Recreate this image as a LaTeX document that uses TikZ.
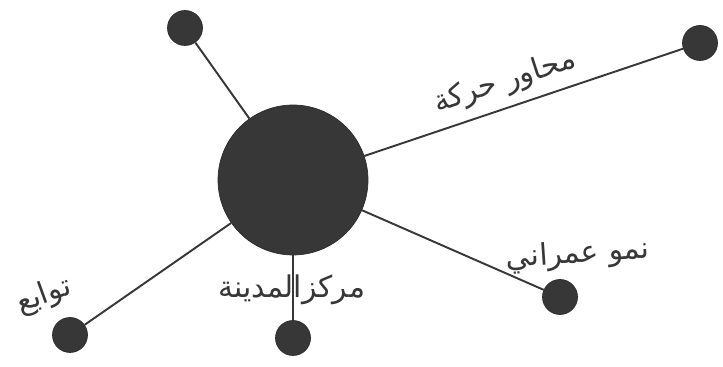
\documentclass[tikz,border=0pt]{standalone}
\usepackage{fontspec}
\newfontfamily\arabicfont[Script=Arabic]{DejaVu Sans}
\TeXXeTstate=1
\usetikzlibrary{positioning}
\definecolor{ink}{RGB}{55, 55, 55}

\begin{document}
\begin{tikzpicture}[x=0.02cm, y=-0.02cm,
    hub/.style={circle, fill=ink, draw=ink!80!black, minimum size=3cm, inner sep=0pt},
    sat/.style={circle, fill=ink, draw=ink!80!black, minimum size=0.7cm, inner sep=0pt},
    link/.style={line width=1.1pt, ink},
    lbl/.style={font=\arabicfont\fontsize{17}{20}\selectfont, text=ink, inner sep=1pt}
]
\useasboundingbox (0, 0) rectangle (723, 367);

\node[hub] (centre) at (293, 180) {};

\node[sat] (top)    at (185, 28) {};
\node[sat] (axis)   at (700, 43) {};
\node[sat] (growth) at (560, 297) {};
\node[sat] (south)  at (293, 338) {};
\node[sat] (suburb) at (70, 335) {};

\draw[link] (centre) -- (top);
\draw[link] (centre) -- (axis);
\draw[link] (centre) -- (growth);
\draw[link] (centre) -- (south);
\draw[link] (centre) -- (suburb);

\node[lbl, rotate=18] (axislbl) at (505, 82) {\beginR محاور حركة\endR};
\node[lbl, rotate=4] (growthlbl) at (578, 255) {\beginR نمو عمراني\endR};
\node[lbl, rotate=20] (suburblbl) at (44, 296) {\beginR توابع\endR};
\node[lbl] (centrelbl) at (292, 290) {\beginR مركزالمدينة\endR};

\end{tikzpicture}
\end{document}
